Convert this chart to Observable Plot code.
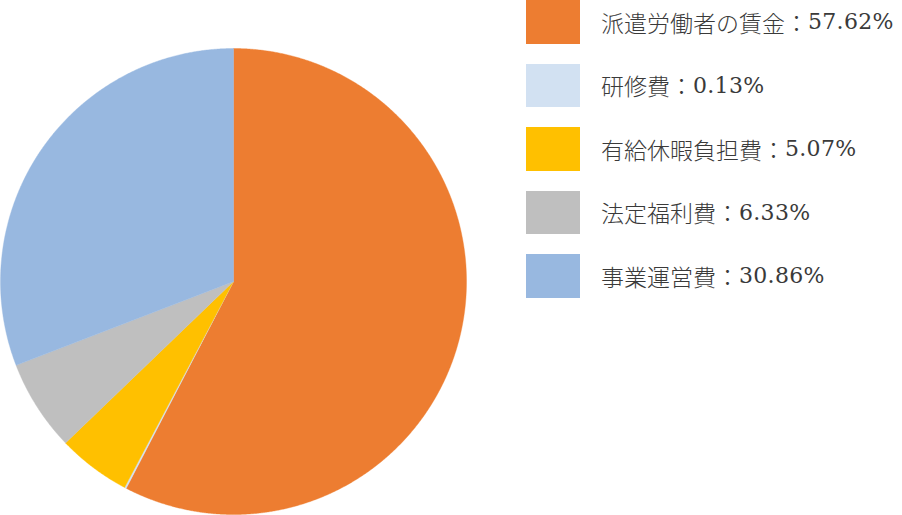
<!DOCTYPE html>
<html><head><meta charset="utf-8">
<script src="https://cdn.jsdelivr.net/npm/d3@7"></script>
<script src="https://cdn.jsdelivr.net/npm/@observablehq/plot@0.6"></script>
<style>
body{margin:0;background:#fff;}
#wrap{position:relative;width:902px;height:515px;overflow:hidden;}
#legend{position:absolute;left:526px;top:0;font-family:"Noto Sans CJK JP",sans-serif;color:#3a3a3a;font-size:23px;font-weight:300;}
.row{display:flex;align-items:center;height:43.5px;margin-bottom:20px;white-space:nowrap;}
.sw{width:54px;height:43.5px;margin-right:21px;flex:none;}
.num{font-family:"DejaVu Serif",serif;font-weight:400;font-size:22px;letter-spacing:0.3px;}
</style></head>
<body><div id="wrap"><div id="chart"></div><div id="legend"></div></div>
<script>
const categories = ["派遣労働者の賃金","研修費","有給休暇負担費","法定福利費","事業運営費"];
const values = [57.62, 0.13, 5.07, 6.33, 30.86];
const colors = ["#ED7D31","#D2E1F2","#FFC000","#BFBFBF","#98B8E0"];

const pie = d3.pie().sort(null).value(d => d)(values);
function slicePts(a0, a1){
  const pts = [{x:0,y:0}];
  const n = Math.max(2, Math.ceil((a1-a0)/(Math.PI/720)));
  for(let i=0;i<=n;i++){const a=a0+(a1-a0)*i/n; pts.push({x:Math.sin(a), y:Math.cos(a)});}
  pts.push({x:0,y:0});
  return pts;
}
const marks = pie.map((p,i)=>Plot.line(slicePts(p.startAngle,p.endAngle),{x:"x",y:"y",fill:colors[i],stroke:colors[i],strokeWidth:0.4,curve:"linear"}));
const R = 233, cx = 233, cy = 281, W = 902, H = 515;
const chart = Plot.plot({
  width: W, height: H,
  marginTop:0, marginBottom:0, marginLeft:0, marginRight:0,
  x:{domain:[-cx/R,(W-cx)/R], range:[0,W], axis:null},
  y:{domain:[(cy-H)/R, cy/R], range:[H,0], axis:null},
  marks
});
document.getElementById("chart").appendChild(chart);
const lg = document.getElementById("legend");
categories.forEach((c,i)=>{
  const row=document.createElement("div");row.className="row";
  const sw=document.createElement("div");sw.className="sw";sw.style.background=colors[i];
  const t=document.createElement("span");t.textContent=`${c}：`;
  const n=document.createElement("span");n.className="num";n.textContent=`${values[i].toFixed(2)}%`;
  row.appendChild(sw);row.appendChild(t);row.appendChild(n);lg.appendChild(row);
});
</script></body></html>
